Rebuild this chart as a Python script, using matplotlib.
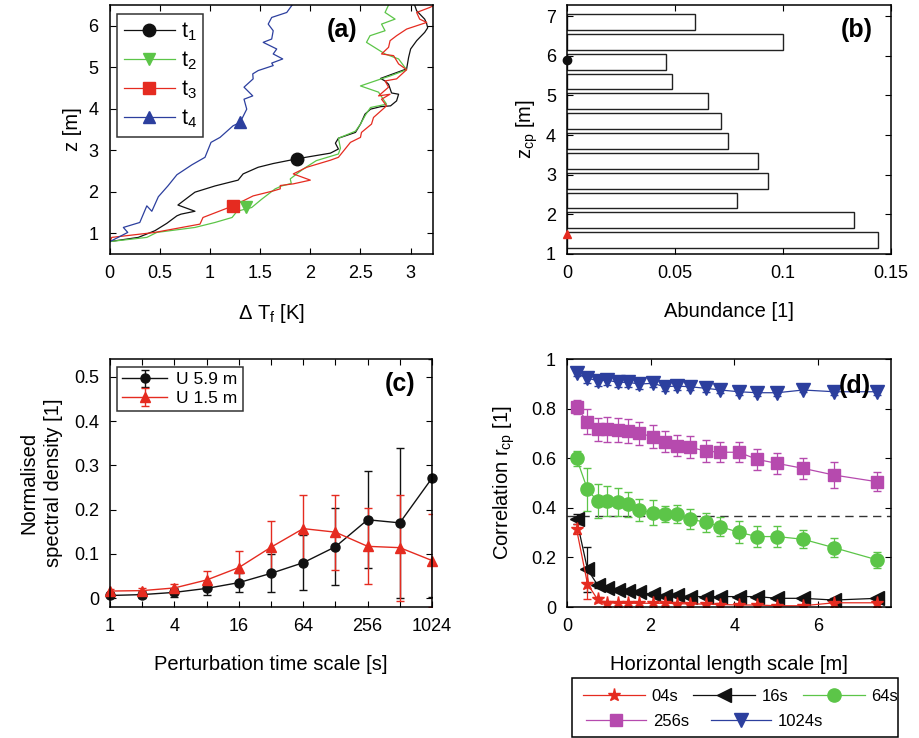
import numpy as np
import matplotlib
matplotlib.use("Agg")
import matplotlib.pyplot as plt
from matplotlib.lines import Line2D
from matplotlib.patches import Rectangle

plt.rcParams['font.family'] = ['Liberation Sans', 'DejaVu Sans']
plt.rcParams['mathtext.fontset'] = 'custom'
plt.rcParams['mathtext.rm'] = 'Liberation Sans'
plt.rcParams['mathtext.it'] = 'Liberation Sans:italic'
plt.rcParams['xtick.direction'] = 'in'
plt.rcParams['ytick.direction'] = 'in'
plt.rcParams['xtick.top'] = True
plt.rcParams['ytick.right'] = True
plt.rcParams['axes.linewidth'] = 1.1

# ---------------- Panel (a): temperature profiles ----------------
t1_x = [0.003, 0.285, 0.45, 0.57, 0.67, 0.71, 0.85, 0.68, 0.80, 0.85, 1.05, 1.28, 1.33, 1.48, 1.63,
        1.88, 2.20, 2.28, 2.25, 2.28, 2.45, 2.50, 2.545, 2.60, 2.70, 2.80, 2.86, 2.88, 2.81, 2.78,
        2.745, 2.70, 2.96, 2.98, 3.00, 3.06, 3.14, 3.17, 3.16, 3.14, 3.06, 3.04]
t1_z = [0.80, 0.90, 1.06, 1.24, 1.42, 1.46, 1.53, 1.68, 1.90, 1.99, 2.14, 2.28, 2.43, 2.59, 2.68,
        2.80, 2.93, 3.03, 3.17, 3.29, 3.43, 3.63, 3.87, 3.99, 4.05, 4.07, 4.19, 4.35, 4.38, 4.59,
        4.67, 4.73, 4.96, 5.24, 5.44, 5.64, 5.84, 5.95, 6.05, 6.16, 6.36, 6.50]
t2_x = [0.003, 0.37, 0.47, 0.85, 1.05, 1.22, 1.27, 1.415, 1.515, 1.65, 1.715, 1.81, 1.80, 1.93, 2.06,
        2.28, 2.30, 2.28, 2.45, 2.50, 2.55, 2.60, 2.76, 2.68, 2.50, 2.695, 2.795, 2.96, 2.88, 2.745,
        2.56, 2.595, 2.745, 2.71, 2.845, 2.745, 2.78]
t2_z = [0.80, 0.90, 1.02, 1.14, 1.26, 1.38, 1.53, 1.62, 1.82, 2.07, 2.14, 2.20, 2.31, 2.55, 2.75,
        2.91, 3.05, 3.29, 3.46, 3.63, 3.85, 4.03, 4.11, 4.40, 4.55, 4.71, 4.79, 4.94, 5.20, 5.32,
        5.60, 5.76, 5.88, 6.04, 6.16, 6.32, 6.50]
t3_x = [0.003, 0.02, 0.45, 0.90, 0.93, 1.23, 1.43, 1.63, 1.70, 1.70, 1.83, 2.00, 1.83, 1.965, 2.20,
        2.28, 2.40, 2.50, 2.51, 2.61, 2.63, 2.76, 2.71, 2.795, 2.68, 2.78, 2.745, 2.86, 2.96, 2.88,
        2.83, 2.71, 2.78, 2.795, 2.86, 2.96, 3.16, 3.09, 3.06, 3.19, 3.24]
t3_z = [0.80, 0.90, 1.02, 1.22, 1.38, 1.66, 1.90, 2.02, 2.07, 2.15, 2.19, 2.28, 2.43, 2.59, 2.76,
        2.83, 3.19, 3.31, 3.43, 3.63, 3.79, 4.07, 4.23, 4.35, 4.31, 4.52, 4.67, 4.72, 4.94, 5.08,
        5.28, 5.32, 5.48, 5.64, 5.76, 5.92, 6.08, 6.16, 6.32, 6.44, 6.50]
t4_x = [0.003, 0.18, 0.136, 0.30, 0.37, 0.42, 0.485, 0.58, 0.67, 0.82, 0.95, 1.01, 1.10, 1.23, 1.30,
        1.366, 1.339, 1.426, 1.339, 1.43, 1.426, 1.48, 1.53, 1.63, 1.615, 1.725, 1.63, 1.665, 1.53,
        1.615, 1.63, 1.58, 1.615, 1.765, 1.825]
t4_z = [0.80, 1.02, 1.14, 1.26, 1.66, 1.53, 1.88, 2.14, 2.41, 2.65, 2.83, 3.19, 3.31, 3.59, 3.67,
        3.99, 4.23, 4.31, 4.52, 4.72, 4.84, 4.92, 4.96, 5.04, 5.10, 5.20, 5.32, 5.44, 5.60,
        5.68, 5.88, 6.04, 6.20, 6.32, 6.52]
a_marker_x = [1.87, 1.36, 1.23, 1.30]
a_marker_z = [2.79, 1.63, 1.65, 3.67]
a_labels = [r'$\mathrm{t_1}$', r'$\mathrm{t_2}$', r'$\mathrm{t_3}$', r'$\mathrm{t_4}$']

# ---------------- Panel (b): abundance ----------------
b_z = [1.35, 1.85, 2.35, 2.85, 3.35, 3.85, 4.35, 4.85, 5.35, 5.85, 6.35, 6.85]
b_abund = [0.1441, 0.1331, 0.0785, 0.0930, 0.0882, 0.0746, 0.0715, 0.0655, 0.0488, 0.0460, 0.1000, 0.0591]
b_marker_z = [5.89, 1.50]

# ---------------- Panel (c): spectral density ----------------
c_scale = [1, 2, 4, 8, 16, 32, 64, 128, 256, 512, 1024]
c_u59 = [0.006, 0.008, 0.013, 0.022, 0.035, 0.056, 0.080, 0.116, 0.177, 0.170, 0.271]
c_u59_err = [0.005, 0.008, 0.010, 0.014, 0.022, 0.043, 0.062, 0.087, 0.110, 0.170, 0.268]
c_u15 = [0.016, 0.017, 0.023, 0.041, 0.069, 0.115, 0.157, 0.149, 0.117, 0.114, 0.085]
c_u15_err = [0.005, 0.006, 0.009, 0.020, 0.037, 0.060, 0.075, 0.085, 0.086, 0.120, 0.105]
c_ticklabels = ['1', '4', '16', '64', '256', '1024']

# ---------------- Panel (d): correlation ----------------
d_len = [0.23, 0.49, 0.73, 0.96, 1.21, 1.47, 1.73, 2.05, 2.34, 2.62, 2.94, 3.32, 3.67, 4.11,
         4.55, 5.03, 5.65, 6.39, 7.42]
d_04s = [0.313, 0.093, 0.031, 0.017, 0.015, 0.015, 0.015, 0.015, 0.015, 0.014, 0.012, 0.012,
         0.010, 0.008, 0.008, 0.005, 0.005, 0.017, 0.017]
d_04s_err = [0.02, 0.06, 0.01, 0.006, 0.005, 0.005, 0.005, 0.005, 0.005, 0.005, 0.005, 0.005,
             0.005, 0.005, 0.005, 0.005, 0.005, 0.005, 0.005]
d_16s = [0.353, 0.152, 0.089, 0.075, 0.069, 0.065, 0.059, 0.051, 0.044, 0.048, 0.042, 0.042,
         0.042, 0.042, 0.042, 0.035, 0.035, 0.028, 0.035]
d_16s_err = [0.02, 0.09, 0.012, 0.01, 0.008, 0.008, 0.008, 0.008, 0.007, 0.007, 0.007, 0.007,
             0.007, 0.007, 0.007, 0.007, 0.007, 0.007, 0.007]
d_64s = [0.599, 0.474, 0.427, 0.427, 0.422, 0.414, 0.391, 0.380, 0.375, 0.375, 0.355, 0.341,
         0.324, 0.301, 0.284, 0.284, 0.273, 0.239, 0.190]
d_64s_err = [0.03, 0.086, 0.067, 0.062, 0.057, 0.05, 0.043, 0.05, 0.032, 0.038, 0.04, 0.038,
             0.037, 0.044, 0.044, 0.044, 0.036, 0.038, 0.032]
d_256s = [0.805, 0.747, 0.716, 0.716, 0.714, 0.711, 0.700, 0.687, 0.667, 0.650, 0.644, 0.629,
          0.624, 0.624, 0.595, 0.579, 0.559, 0.532, 0.505]
d_256s_err = [0.028, 0.05, 0.048, 0.05, 0.047, 0.048, 0.047, 0.046, 0.044, 0.042, 0.044, 0.046,
              0.04, 0.04, 0.042, 0.043, 0.042, 0.052, 0.039]
d_1024s = [0.942, 0.922, 0.913, 0.915, 0.906, 0.906, 0.899, 0.902, 0.888, 0.891, 0.888, 0.882,
           0.875, 0.868, 0.864, 0.864, 0.875, 0.868, 0.868]
d_1024s_err = [0.01, 0.018, 0.02, 0.018, 0.018, 0.02, 0.018, 0.016, 0.016, 0.016, 0.014, 0.014,
               0.014, 0.014, 0.014, 0.014, 0.01, 0.014, 0.012]
d_efold = 1 / np.e

RED = '#e52b20'
GREEN = '#5cc548'
BLUE = '#2c3f9e'
MAG = '#b64aae'
BLK = '#111111'

fig = plt.figure(figsize=(9.19, 7.38), dpi=100)
W, H = 919, 738
def ax_at(l, t, r, b):
    return fig.add_axes([l / W, 1 - b / H, (r - l) / W, (b - t) / H])

TICK = 13
LAB = 14.5
PAN = 18

def style(ax):
    ax.tick_params(labelsize=TICK, length=4, width=0.8, pad=8)

# ---- (a)
ax = ax_at(109.7, 5, 432.7, 254)
cols_a = [BLK, GREEN, RED, BLUE]
mk_a = ['o', 'v', 's', '^']
for xs, zs, c in zip([t1_x, t2_x, t3_x, t4_x], [t1_z, t2_z, t3_z, t4_z], cols_a):
    ax.plot(xs, zs, color=c, lw=0.9)
for i in range(4):
    ax.plot(a_marker_x[i], a_marker_z[i], marker=mk_a[i], color=cols_a[i], ms=9, ls='none')
handles = [Line2D([], [], color=cols_a[i], marker=mk_a[i], ms=9, lw=0.9) for i in range(4)]
leg = ax.legend(handles, a_labels, loc='upper left', fontsize=15.5, handlelength=2.4,
                borderpad=0.3, labelspacing=0.3, fancybox=False, edgecolor='black',
                bbox_to_anchor=(0.023, 0.964), borderaxespad=0, handletextpad=0.25)
leg.get_frame().set_linewidth(1.1)
ax.set_xlim(0, 3.22)
ax.set_ylim(0.5, 6.5)
ax.set_xticks([0, 0.5, 1, 1.5, 2, 2.5, 3])
ax.set_xticklabels(['0', '0.5', '1', '1.5', '2', '2.5', '3'])
ax.set_yticks([1, 2, 3, 4, 5, 6])
style(ax)
ax.set_xlabel(r'Δ $\mathrm{T_f}$ [K]', fontsize=LAB, labelpad=14)
ax.set_ylabel('z [m]', fontsize=LAB, labelpad=5)
ax.text(0.719, 0.90, '(a)', transform=ax.transAxes, fontsize=PAN, fontweight='bold',
        ha='center', va='center')

# ---- (b)
ax = ax_at(567, 5, 891, 254)
ax.barh(b_z, b_abund, height=0.4, color='white', edgecolor='#222222', linewidth=1.0)
ax.plot([0], [b_marker_z[0]], 'o', color=BLK, ms=6, clip_on=False, zorder=5)
ax.plot([0], [b_marker_z[1]], '^', color=RED, ms=6, clip_on=False, zorder=5)
ax.set_xlim(0, 0.15)
ax.set_ylim(1, 7.28)
ax.set_xticks([0, 0.05, 0.1, 0.15])
ax.set_xticklabels(['0', '0.05', '0.1', '0.15'])
ax.set_yticks([1, 2, 3, 4, 5, 6, 7])
style(ax)
ax.set_xlabel('Abundance [1]', fontsize=LAB, labelpad=14)
ax.set_ylabel(r'$\mathrm{z_{cp}}$ [m]', fontsize=LAB, labelpad=4)
ax.text(0.895, 0.90, '(b)', transform=ax.transAxes, fontsize=PAN, fontweight='bold',
        ha='center', va='center')

# ---- (c)
ax = ax_at(110, 359, 432, 607)
ax.set_xscale('log', base=2)
for ys, es, c, m, ms, lab in [(c_u59, c_u59_err, BLK, 'o', 6.5, 'U 5.9 m'),
                              (c_u15, c_u15_err, RED, '^', 7, 'U 1.5 m')]:
    dl, caps, bars = ax.errorbar(c_scale, ys, yerr=es, color=c, marker=m, ms=ms, lw=1.0,
                                 capsize=3, elinewidth=1.0, label=lab)
    dl.set_clip_on(False)
ax.set_xlim(1, 1024)
ax.set_ylim(-0.02, 0.54)
ax.set_xticks(c_scale)
ax.set_xticklabels([str(v) if str(v) in c_ticklabels else '' for v in c_scale])
ax.minorticks_off()
ax.set_yticks([0, 0.1, 0.2, 0.3, 0.4, 0.5])
ax.set_yticklabels(['0', '0.1', '0.2', '0.3', '0.4', '0.5'])
style(ax)
ax.set_xlabel('Perturbation time scale [s]', fontsize=LAB, labelpad=14)
ax.set_ylabel('Normalised\nspectral density [1]', fontsize=LAB, labelpad=8, linespacing=1.35)
leg = ax.legend(loc='upper left', fontsize=12.5, handlelength=2.6, borderpad=0.3,
                labelspacing=0.2, fancybox=False, edgecolor='black',
                bbox_to_anchor=(0.022, 0.968), borderaxespad=0, handletextpad=0.5)
leg.get_frame().set_linewidth(1.1)
ax.text(0.90, 0.90, '(c)', transform=ax.transAxes, fontsize=PAN, fontweight='bold',
        ha='center', va='center')

# ---- (d)
ax = ax_at(567, 359, 891, 607)
ax.axhline(d_efold, color='#333333', lw=1.0, dashes=(6, 4))
series = [
    (d_1024s, d_1024s_err, BLUE, 'v', 9.5, '1024s'),
    (d_256s, d_256s_err, MAG, 's', 8.5, '256s'),
    (d_64s, d_64s_err, GREEN, 'o', 9.5, '64s'),
    (d_16s, d_16s_err, BLK, '<', 9.5, '16s'),
    (d_04s, d_04s_err, RED, '*', 9.5, '04s'),
]
hd = {}
for ys, es, c, m, ms, lab in series:
    ax.errorbar(d_len, ys, yerr=es, color=c, marker=m, ms=ms, mfc=c, mec=c, lw=0.9,
                capsize=3, elinewidth=0.9)
    hd[lab] = Line2D([], [], color=c, marker=m, ms=ms, lw=0.9)
ax.set_xlim(0, 7.75)
ax.set_ylim(0, 1)
ax.set_xticks([0, 2, 4, 6])
ax.set_yticks([0, 0.2, 0.4, 0.6, 0.8, 1])
ax.set_yticklabels(['0', '0.2', '0.4', '0.6', '0.8', '1'])
style(ax)
ax.set_xlabel('Horizontal length scale [m]', fontsize=LAB, labelpad=14)
ax.set_ylabel(r'Correlation $\mathrm{r_{cp}}$ [1]', fontsize=LAB, labelpad=10)
ax.text(0.889, 0.891, '(d)', transform=ax.transAxes, fontsize=PAN, fontweight='bold',
        ha='center', va='center')

# legend for (d): two rows inside one frame drawn below the axes
row1 = ['04s', '16s', '64s']
row2 = ['256s', '1024s']
fig.patches.append(Rectangle((572 / W, 1 - 737 / H), (898 - 572) / W, (737 - 678) / H,
                             transform=fig.transFigure, facecolor='white', edgecolor='black',
                             lw=1.1, zorder=1))
l1 = fig.legend([hd[k] for k in row1], row1, ncol=3, loc='center left',
                bbox_to_anchor=(583 / W, 1 - 696.7 / H), fontsize=12, handlelength=3.7,
                borderpad=0, borderaxespad=0, columnspacing=0.9, handletextpad=0.4,
                frameon=False)
l2 = fig.legend([hd[k] for k in row2], row2, ncol=2, loc='center left',
                bbox_to_anchor=(586 / W, 1 - 721.7 / H), fontsize=12, handlelength=3.6,
                borderpad=0, borderaxespad=0, columnspacing=1.35, handletextpad=0.4,
                frameon=False)

fig.savefig('out.png', dpi=100)
